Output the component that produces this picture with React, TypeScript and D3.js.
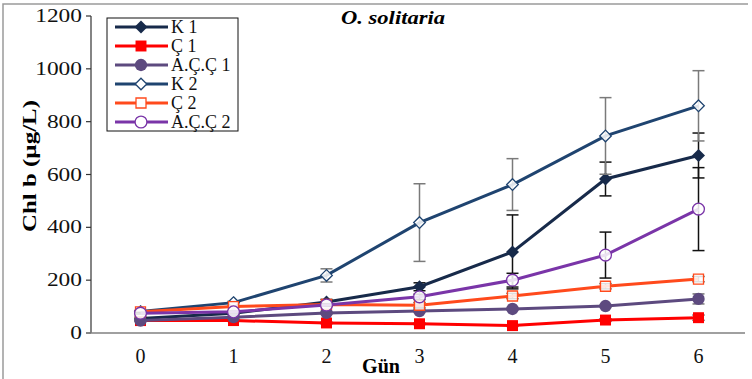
import React, { useEffect, useRef } from 'react';
import * as d3 from 'd3';

const days = [0, 1, 2, 3, 4, 5, 6];
const yTicks = [0, 200, 400, 600, 800, 1000, 1200];

const k1 = [55, 75, 117, 175, 307, 583, 672];
const k1Err = [5, 5, 10, 15, 140, 64, 85];
const c1 = [47, 47, 38, 35, 28, 49, 58];
const c1Err = [3, 3, 3, 3, 3, 5, 10];
const acc1 = [47, 60, 76, 83, 91, 102, 129];
const acc1Err = [3, 3, 5, 5, 5, 5, 19];
const k2 = [81, 115, 218, 418, 562, 746, 860];
const k2Err = [5, 5, 25, 147, 98, 145, 133];
const c2 = [80, 100, 108, 105, 140, 177, 204];
const c2Err = [3, 3, 5, 10, 10, 10, 10];
const acc2 = [75, 80, 106, 137, 200, 295, 469];
const acc2Err = [3, 3, 5, 10, 26, 87, 157];

interface Series {
    label: string;
    values: number[];
    errors: number[];
    color: string;
    errColor: string;
    marker: 'diamond' | 'square' | 'circle';
    filled: boolean;
}

const series: Series[] = [
    { label: 'K 1', values: k1, errors: k1Err, color: '#172a4a', errColor: '#111', marker: 'diamond', filled: true },
    { label: 'Ç 1', values: c1, errors: c1Err, color: '#ff0000', errColor: '#333', marker: 'square', filled: true },
    { label: 'A.Ç.Ç 1', values: acc1, errors: acc1Err, color: '#5d4a7f', errColor: '#777', marker: 'circle', filled: true },
    { label: 'K 2', values: k2, errors: k2Err, color: '#1f4470', errColor: '#7a7a7a', marker: 'diamond', filled: false },
    { label: 'Ç 2', values: c2, errors: c2Err, color: '#ff4a1c', errColor: '#222', marker: 'square', filled: false },
    { label: 'A.Ç.Ç 2', values: acc2, errors: acc2Err, color: '#7a35a8', errColor: '#111', marker: 'circle', filled: false }
];

// marker path centred on 0,0
const symbolFor = (m: Series['marker'], filled: boolean) => {
    if (m === 'diamond') {
        const r = filled ? 6.5 : 5.8;
        return `M0,${-r}L${r},0L0,${r}L${-r},0Z`;
    }
    if (m === 'square') return d3.symbol(d3.symbolSquare, filled ? 120 : 100)();
    return d3.symbol(d3.symbolCircle, filled ? 120 : 110)();
};

const serif = '"Liberation Serif", "Times New Roman", serif';

const App: React.FC = () => {
    const svgRef = useRef<SVGSVGElement | null>(null);

    useEffect(() => {
        const width = 752;
        const height = 379;
        const plot = { left: 91, right: 745, top: 16, bottom: 333 };

        const svg = d3.select(svgRef.current)
            .attr('width', width)
            .attr('height', height);
        svg.selectAll('*').remove();

        const x = d3.scalePoint<number>()
            .domain(days)
            .range([plot.left + 3, plot.right])
            .padding(0.5);
        const y = d3.scaleLinear().domain([0, 1200]).range([plot.bottom, plot.top]);

        // outer frame (left + top)
        svg.append('path')
            .attr('d', `M3,${height} V4 H748`)
            .attr('fill', 'none')
            .attr('stroke', '#9a9a9a')
            .attr('stroke-width', 1.5);

        // y axis
        svg.append('line')
            .attr('x1', plot.left).attr('x2', plot.left)
            .attr('y1', y(1200)).attr('y2', plot.bottom)
            .attr('stroke', '#333').attr('stroke-width', 1.2);
        const yt = svg.append('g').selectAll('g')
            .data(yTicks)
            .enter()
            .append('g')
            .attr('transform', d => `translate(${plot.left},${y(d)})`);
        yt.append('line')
            .attr('x1', -5).attr('x2', 0)
            .attr('stroke', '#333').attr('stroke-width', 1.2);
        yt.append('text')
            .attr('transform', 'translate(-9,0) scale(1.3,1)')
            .attr('text-anchor', 'end')
            .attr('dy', '0.34em')
            .attr('font-family', serif)
            .attr('font-size', 18)
            .attr('fill', '#111')
            .text(d => String(d));

        // x axis line
        svg.append('line')
            .attr('x1', plot.left - 2)
            .attr('x2', plot.right)
            .attr('y1', plot.bottom)
            .attr('y2', plot.bottom)
            .attr('stroke', '#808080')
            .attr('stroke-width', 1.6);

        svg.append('g')
            .selectAll('text')
            .data(days)
            .enter()
            .append('text')
            .attr('x', d => x(d) as number)
            .attr('y', 363)
            .attr('text-anchor', 'middle')
            .attr('font-family', serif)
            .attr('font-size', 20)
            .attr('fill', '#111')
            .text(d => d);

        svg.append('text')
            .attr('x', 381)
            .attr('y', 373)
            .attr('text-anchor', 'middle')
            .attr('font-family', serif)
            .attr('font-weight', 'bold')
            .attr('font-size', 20)
            .attr('textLength', 38)
            .attr('lengthAdjust', 'spacingAndGlyphs')
            .text('Gün');

        svg.append('text')
            .attr('transform', 'translate(36,166) rotate(-90)')
            .attr('text-anchor', 'middle')
            .attr('font-family', serif)
            .attr('font-weight', 'bold')
            .attr('font-size', 19)
            .attr('textLength', 132)
            .attr('lengthAdjust', 'spacingAndGlyphs')
            .text('Chl b (µg/L)');

        svg.append('text')
            .attr('x', 393)
            .attr('y', 24)
            .attr('text-anchor', 'middle')
            .attr('font-family', serif)
            .attr('font-weight', 'bold')
            .attr('font-style', 'italic')
            .attr('font-size', 18)
            .attr('textLength', 104)
            .attr('lengthAdjust', 'spacingAndGlyphs')
            .text('O. solitaria');

        const line = d3.line<number>()
            .x((_, i) => x(days[i]) as number)
            .y(d => y(d));

        series.forEach(s => {
            const g = svg.append('g');
            // error bars
            const eb = g.append('g').selectAll('g')
                .data(s.values.map((v, i) => ({ v, e: s.errors[i], d: days[i] })))
                .enter()
                .append('g')
                .attr('stroke', s.errColor)
                .attr('stroke-width', 1.5);
            eb.append('line')
                .attr('x1', d => x(d.d) as number)
                .attr('x2', d => x(d.d) as number)
                .attr('y1', d => y(d.v + d.e))
                .attr('y2', d => y(d.v - d.e));
            eb.append('line')
                .attr('x1', d => (x(d.d) as number) - 6)
                .attr('x2', d => (x(d.d) as number) + 6)
                .attr('y1', d => y(d.v + d.e))
                .attr('y2', d => y(d.v + d.e));
            eb.append('line')
                .attr('x1', d => (x(d.d) as number) - 6)
                .attr('x2', d => (x(d.d) as number) + 6)
                .attr('y1', d => y(d.v - d.e))
                .attr('y2', d => y(d.v - d.e));

            g.append('path')
                .attr('d', line(s.values) || '')
                .attr('fill', 'none')
                .attr('stroke', s.color)
                .attr('stroke-width', 3);

            g.selectAll('.pt')
                .data(s.values)
                .enter()
                .append('path')
                .attr('class', 'pt')
                .attr('d', symbolFor(s.marker, s.filled))
                .attr('transform', (d, i) => `translate(${x(days[i])},${y(d)})`)
                .attr('fill', s.filled ? s.color : 'white')
                .attr('fill-opacity', s.filled ? 1 : 0.85)
                .attr('stroke', s.color)
                .attr('stroke-width', s.filled ? 0 : 1.3);
        });

        // legend
        const legend = svg.append('g').attr('transform', 'translate(107,18)');
        legend.append('rect')
            .attr('width', 131)
            .attr('height', 113)
            .attr('fill', 'white')
            .attr('stroke', '#111')
            .attr('stroke-width', 1);
        const items = legend.selectAll('.lg')
            .data(series)
            .enter()
            .append('g')
            .attr('class', 'lg')
            .attr('transform', (_, i) => `translate(0,${9 + i * 19})`);
        items.append('line')
            .attr('x1', 8)
            .attr('x2', 61)
            .attr('stroke', d => d.color)
            .attr('stroke-width', 3);
        items.append('path')
            .attr('d', d => symbolFor(d.marker, d.filled))
            .attr('transform', 'translate(34,0)')
            .attr('fill', d => (d.filled ? d.color : 'white'))
            .attr('stroke', d => d.color)
            .attr('stroke-width', d => (d.filled ? 0 : 1.3));
        items.append('text')
            .attr('x', 64)
            .attr('dy', '0.35em')
            .attr('font-family', serif)
            .attr('font-size', 18)
            .attr('fill', '#111')
            .text(d => d.label);
    }, []);

    return <svg ref={svgRef} style={{ position: 'absolute', left: 0, top: 0 }}></svg>;
};

export default App;
